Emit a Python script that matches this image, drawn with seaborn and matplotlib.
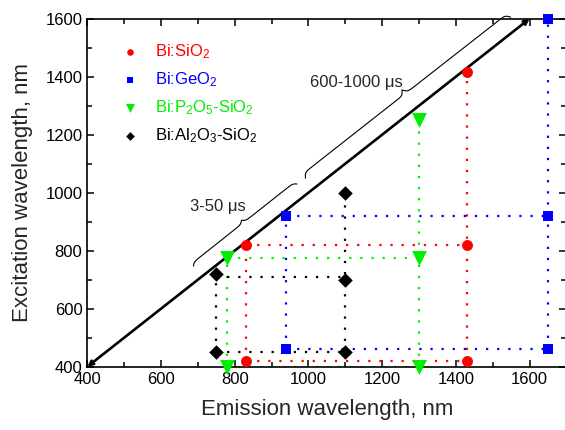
import numpy as np
import pandas as pd
import matplotlib.pyplot as plt
import seaborn as sns

# samples and styles
samples = ["Bi:SiO$_2$", "Bi:GeO$_2$", "Bi:P$_2$O$_5$-SiO$_2$", "Bi:Al$_2$O$_3$-SiO$_2$"]
colors = ["#ff0000", "#0000ff", "#00ee00", "#000000"]
markers = ["o", "s", "v", "D"]
sizes = [62, 62, 115, 55]

# peak positions (emission, excitation) in nm, order:
# low-left, mid-left, mid-right, top-right, low-right
emission = [
    [830, 830, 1430, 1430, 1430],
    [940, 940, 1650, 1650, 1650],
    [780, 780, 1300, 1300, 1300],
    [750, 750, 1100, 1100, 1100],
]
excitation = [
    [418, 820, 820, 1415, 418],
    [460, 920, 920, 1600, 460],
    [400, 775, 775, 1250, 400],
    [450, 720, 700, 1000, 450],
]
# level of the horizontal dotted guide between the mid points
mid_level = [820, 920, 775, 710]

# lifetime braces along the diagonal: (start, end, label)
brace_spans = [
    ((688, 747), (969, 1030), "3-50 μs"),
    ((992, 1050), (1549, 1605), "600-1000 μs"),
]
brace_heights = [6, 10]
brace_text_pos = [(753, 951), (1129, 1379)]

sns.set_style("ticks")
plt.rcParams["font.family"] = ["Liberation Sans", "DejaVu Sans"]
plt.rcParams["mathtext.default"] = "regular"

fig = plt.figure(figsize=(5.65, 4.30), dpi=100)
ax = fig.add_axes([0.1545, 0.1472, 0.8480, 0.8093])
ax.set_xlim(400, 1700)
ax.set_ylim(400, 1600)

# diagonal line (emission = excitation)
ax.annotate("", xy=(1600, 1600), xytext=(400, 400),
            arrowprops=dict(arrowstyle="<->,head_length=0.3,head_width=0.15",
                            lw=1.9, color="black", shrinkA=0, shrinkB=0),
            annotation_clip=False)

# dotted guides + markers
for i, name in enumerate(samples):
    ex, ey = emission[i], excitation[i]
    dot = dict(color=colors[i], ls=(0, (1, 4)), lw=1.6, zorder=2)
    ax.plot([ex[0], ex[1]], [ey[0], ey[1]], **dot)
    ax.plot([ex[1], ex[2]], [mid_level[i], mid_level[i]], **dot)
    ax.plot([ex[4], ex[3]], [ey[4], ey[3]], **dot)
    ax.plot([ex[0], ex[4]], [ey[0], ey[4]], **dot)
    df = pd.DataFrame({"em": ex, "exc": ey})
    sns.scatterplot(data=df, x="em", y="exc", ax=ax, marker=markers[i],
                    color=colors[i], s=sizes[i], linewidth=0, label=name,
                    clip_on=False, zorder=4)


def draw_brace(p0, p1, h, k=1.6):
    # curly brace drawn in pixel space, tip pointing up-left
    a = ax.transData.transform(p0)
    b = ax.transData.transform(p1)
    L = np.hypot(*(b - a))
    d = (b - a) / L
    n = np.array([-d[1], d[0]])
    s = np.linspace(0, L / 2, 200)
    sig = lambda z: 1 / (1 + np.exp(-z))
    v = sig(s / k) + sig((s - L / 2) / k) - 0.5
    s_full = np.concatenate([s, L - s[::-1]])
    v_full = np.concatenate([v, v[::-1]])
    pts = a + np.outer(s_full, d) + np.outer(v_full * h, n)
    dat = ax.transData.inverted().transform(pts)
    ax.plot(dat[:, 0], dat[:, 1], color="black", lw=0.8, clip_on=False)


for (p0, p1, lab), h, tp in zip(brace_spans, brace_heights, brace_text_pos):
    draw_brace(p0, p1, h)
    ax.text(tp[0], tp[1], lab, fontsize=12, ha="center", va="center")

ax.set_xticks(np.arange(400, 1700, 200))
ax.set_yticks(np.arange(400, 1700, 200))
ax.set_xticks(np.arange(500, 1700, 200), minor=True)
ax.set_yticks(np.arange(500, 1600, 200), minor=True)
ax.tick_params(which="both", direction="in", top=True, right=True, labelsize=12,
               width=1.1, colors="black")
ax.tick_params(which="major", length=5)
ax.tick_params(which="minor", length=3.5)
for sp in ax.spines.values():
    sp.set_linewidth(1.2)
    sp.set_color("black")

ax.set_xlabel("Emission wavelength, nm", fontsize=16, labelpad=9)
ax.set_ylabel("Excitation wavelength, nm", fontsize=16, labelpad=9)

leg = ax.legend(loc="upper left", bbox_to_anchor=(0.038, 0.975), frameon=False,
                fontsize=12, markerscale=0.6, handletextpad=0.9,
                labelspacing=0.55, handlelength=1.2)
for txt, c in zip(leg.get_texts(), colors):
    txt.set_color(c)

fig.savefig("out.png", dpi=100)
